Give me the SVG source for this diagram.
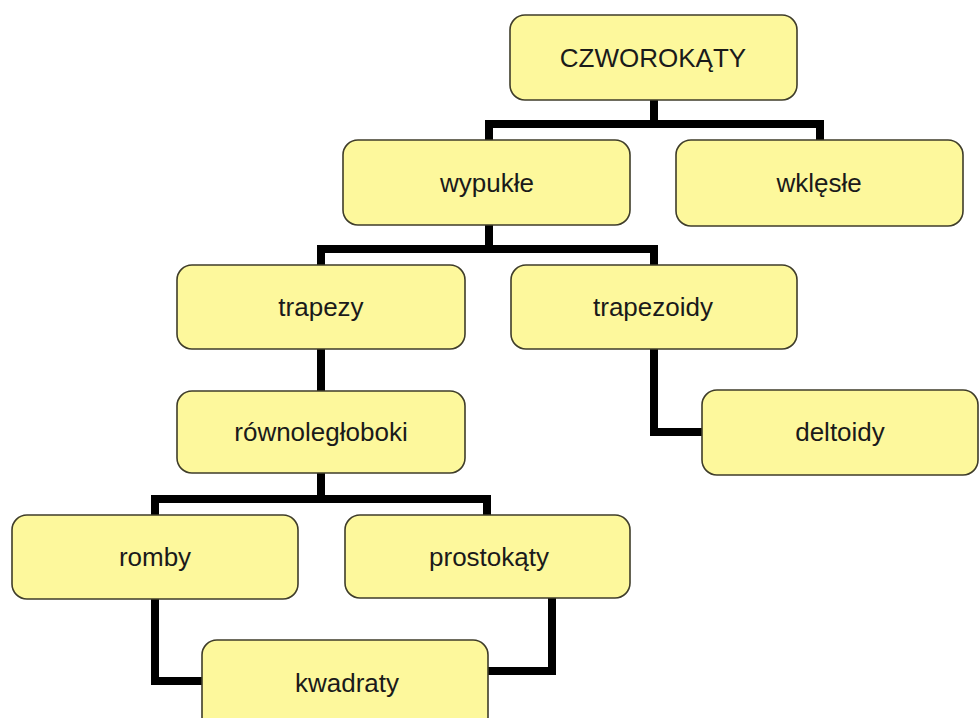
<svg xmlns="http://www.w3.org/2000/svg" width="979" height="718" viewBox="0 0 979 718">
<style>
.box{fill:#fdf89c;stroke:#3f3d2a;stroke-width:1.6}
.lbl{font-family:"Liberation Sans",Arial,sans-serif;font-size:26px;fill:#1a1a1a;text-anchor:middle}
.conn{fill:none;stroke:#000;stroke-width:8;stroke-linejoin:miter;stroke-linecap:butt}
</style>
<rect width="979" height="718" fill="#fff"/>
<g id="connectors">
<path class="conn" d="M654,100 V124 M489,140 V124 H820 V140"/>
<path class="conn" d="M489,225 V249 M321,265 V249 H654 V265"/>
<path class="conn" d="M321,349 V391"/>
<path class="conn" d="M654,349 V432 H702"/>
<path class="conn" d="M321,473 V499 M155,515 V499 H487 V515"/>
<path class="conn" d="M155,599 V681 H202"/>
<path class="conn" d="M552,598 V671 H488"/>
</g>
<g id="czworokaty"><rect class="box" x="510" y="15" width="287" height="85" rx="15"/><text class="lbl" x="653" y="67">CZWOROKĄTY</text></g>
<g id="wypukle"><rect class="box" x="343" y="140" width="287" height="85" rx="15"/><text class="lbl" x="487" y="192">wypukłe</text></g>
<g id="wklesle"><rect class="box" x="676" y="140" width="287" height="86" rx="15"/><text class="lbl" x="819" y="192">wklęsłe</text></g>
<g id="trapezy"><rect class="box" x="177" y="265" width="288" height="84" rx="15"/><text class="lbl" x="321" y="316">trapezy</text></g>
<g id="trapezoidy"><rect class="box" x="511" y="265" width="286" height="84" rx="15"/><text class="lbl" x="653" y="316">trapezoidy</text></g>
<g id="rownoleglo"><rect class="box" x="177" y="391" width="288" height="82" rx="15"/><text class="lbl" x="321" y="441">równoległoboki</text></g>
<g id="deltoidy"><rect class="box" x="702" y="390" width="276" height="85" rx="15"/><text class="lbl" x="840" y="441">deltoidy</text></g>
<g id="romby"><rect class="box" x="12" y="515" width="286" height="84" rx="15"/><text class="lbl" x="155" y="566">romby</text></g>
<g id="prostokaty"><rect class="box" x="345" y="515" width="285" height="83" rx="15"/><text class="lbl" x="489" y="566">prostokąty</text></g>
<g id="kwadraty"><rect class="box" x="202" y="640" width="286" height="92" rx="15"/><text class="lbl" x="347" y="692">kwadraty</text></g>
</svg>
